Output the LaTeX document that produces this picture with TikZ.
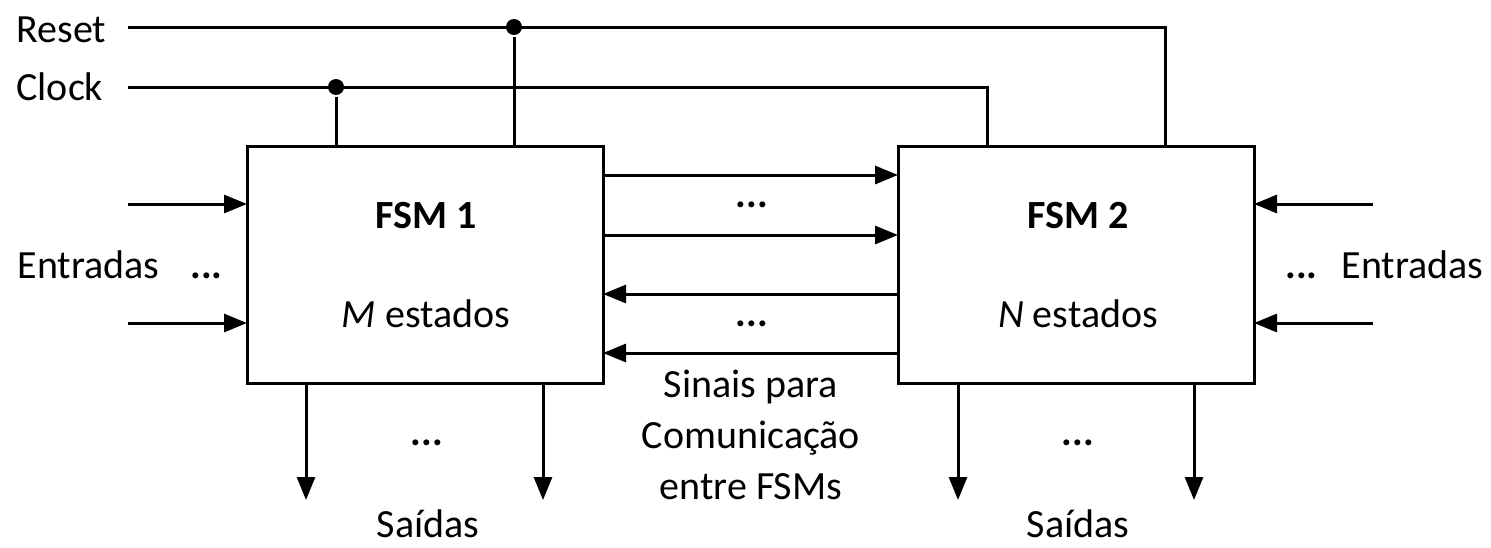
\documentclass[tikz,border=0pt]{standalone}
\usepackage{fontspec}
\setmainfont{Carlito}
\usetikzlibrary{arrows.meta,positioning}
\begin{document}
\begin{tikzpicture}[x=1pt,y=-1pt,>={Triangle[length=23pt,width=18pt]}, line width=3pt,
	font=\fontsize{40}{51}\selectfont,
	fsm/.style={draw, minimum height=237pt, inner sep=0pt, outer sep=0pt},
	txt/.style={inner sep=0pt, anchor=base},
	junct/.style={circle, fill, inner sep=0pt, minimum size=16pt}]
	\useasboundingbox (0,0) rectangle (1491,547);
	\def\yR{27} \def\yC{87} % Reset, Clock
	\def\yE{204} \def\yF{323} % Entradas
	% blocos
	\node[fsm, minimum width=356pt] (fsmA) at (425,264.5) {};
	\node[fsm, minimum width=356pt] (fsmB) at (1076,264.5) {};
	\node[txt] (tA) at (426,228) {\textbf{FSM 1}};
	\node[txt] (mA) at (426,327) {\textit{M} estados};
	\node[txt] (tB) at (1078,228) {\textbf{FSM 2}};
	\node[txt] (mB) at (1078,327) {\textit{N} estados};
	% Reset e Clock
	\node[txt, anchor=base west] (reset) at (15,42) {Reset};
	\node[txt, anchor=base west] (clock) at (15,100) {Clock};
	\coordinate (r0) at (128,\yR); \coordinate (r1) at (1165,\yR);
	\coordinate (c0) at (128,\yC); \coordinate (c1) at (987,\yC);
	\draw (r0) -- (r1) -- (fsmB.north -| r1);
	\draw (c0) -- (c1) -- (fsmB.north -| c1);
	\node[junct] (jR) at (514,\yR) {};
	\node[junct] (jC) at (336,\yC) {};
	\draw (jR) -- (fsmA.north -| jR);
	\draw (jC) -- (fsmA.north -| jC);
	% entradas
	\coordinate (eA1) at (128,\yE); \coordinate (eA2) at (128,\yF);
	\coordinate (eB1) at (1373,\yE); \coordinate (eB2) at (1373,\yF);
	\draw[->] (eA1) -- (fsmA.west |- eA1);
	\draw[->] (eA2) -- (fsmA.west |- eA2);
	\draw[->] (eB1) -- (fsmB.east |- eB1);
	\draw[->] (eB2) -- (fsmB.east |- eB2);
	\node[txt, anchor=base west] (inA) at (16,278) {Entradas};
	\node[txt, anchor=base west] (dA) at (189,278) {\textbf{...}};
	\node[txt, anchor=base west] (dB) at (1284,278) {\textbf{...}};
	\node[txt, anchor=base east] (inB) at (1485,278) {Entradas};
	% sinais entre FSMs
	\foreach \y in {175,235}{
		\coordinate (s) at (0,\y);
		\draw[->] (fsmA.east |- s) -- (fsmB.west |- s);
	}
	\foreach \y in {294,353}{
		\coordinate (s) at (0,\y);
		\draw[->] (fsmB.west |- s) -- (fsmA.east |- s);
	}
	\node[txt] (d1) at (752,207) {\textbf{...}};
	\node[txt] (d2) at (752,326) {\textbf{...}};
	\node[txt, align=center, anchor=north] (sinais) at (751,368) {Sinais para\\Comunicação\\entre FSMs};
	% saidas
	\foreach \x in {306,543}{
		\coordinate (o) at (\x,500);
		\draw[->] (fsmA.south -| o) -- (o);
	}
	\foreach \x in {958,1194}{
		\coordinate (o) at (\x,500);
		\draw[->] (fsmB.south -| o) -- (o);
	}
	\node[txt] (dOA) at (427,445) {\textbf{...}};
	\node[txt] (dOB) at (1078,445) {\textbf{...}};
	\node[txt] (sA) at (428,537) {Saídas};
	\node[txt] (sB) at (1078,537) {Saídas};
\end{tikzpicture}
\end{document}
